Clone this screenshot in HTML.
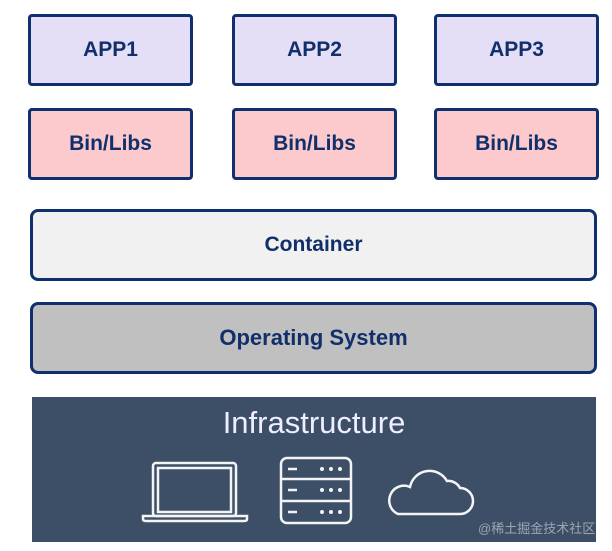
<!DOCTYPE html>
<html><head><style>
html,body{margin:0;padding:0;background:#fff;width:612px;height:551px;overflow:hidden;position:relative;font-family:"Liberation Sans",Arial,sans-serif}
.b{position:absolute;box-sizing:border-box;border:3px solid #0f2f6e;border-radius:4px;display:flex;align-items:center;justify-content:center;color:#112f6a;font-weight:bold;font-size:21px}
.app{background:#e4def6;height:72px;width:165px;top:14px}
.bin{background:#fcc9cc;height:72px;width:165px;top:108px}
#infra{position:absolute;left:32px;top:397px;width:564px;height:145px;background:#3d4f67}
</style></head><body>
<div class="b app" style="left:28px">APP1</div>
<div class="b app" style="left:232px">APP2</div>
<div class="b app" style="left:434px">APP3</div>
<div class="b bin" style="left:28px">Bin/Libs</div>
<div class="b bin" style="left:232px">Bin/Libs</div>
<div class="b bin" style="left:434px">Bin/Libs</div>
<div class="b" style="left:30px;top:209px;width:567px;height:72px;background:#f1f1f1;border-radius:8px">Container</div>
<div class="b" style="left:30px;top:302px;width:567px;height:72px;background:#c0c0c0;border-radius:8px;font-size:22px">Operating System</div>
<div id="infra"></div>
<div style="position:absolute;left:32px;width:564px;top:405px;text-align:center;color:#eef;font-size:31px;">Infrastructure</div>
<svg style="position:absolute;left:0;top:0" width="612" height="551" fill="none" stroke="#f2f4f6" stroke-width="2.5">
<rect x="153" y="463" width="83" height="53" rx="3"/>
<rect x="158" y="468" width="73" height="44"/>
<path d="M143 516 H247 V519 Q247 521 244 521 H146 Q143 521 143 519 Z"/>
<rect x="281" y="458" width="70" height="65" rx="6"/>
<line x1="281" y1="479" x2="351" y2="479"/><line x1="281" y1="501" x2="351" y2="501"/>
<line x1="288" y1="469" x2="297" y2="469"/><line x1="288" y1="490" x2="297" y2="490"/><line x1="288" y1="512" x2="297" y2="512"/>
<g fill="#f2f4f6" stroke="none">
<circle cx="322" cy="469" r="2"/><circle cx="331" cy="469" r="2"/><circle cx="340" cy="469" r="2"/>
<circle cx="322" cy="490" r="2"/><circle cx="331" cy="490" r="2"/><circle cx="340" cy="490" r="2"/>
<circle cx="322" cy="512" r="2"/><circle cx="331" cy="512" r="2"/><circle cx="340" cy="512" r="2"/>
</g>
<path d="M398 514 H460 A12 12 0 0 0 460 488 A13 13 0 0 0 447 481 A20 20 0 0 0 410 487 A14 14 0 0 0 398 514 Z"/>
</svg>
<div style="position:absolute;left:478px;top:518px;color:#9aa6b5;font-size:13px;font-family:'Liberation Sans','Noto Sans CJK SC',sans-serif">@稀土掘金技术社区</div>
</body></html>
